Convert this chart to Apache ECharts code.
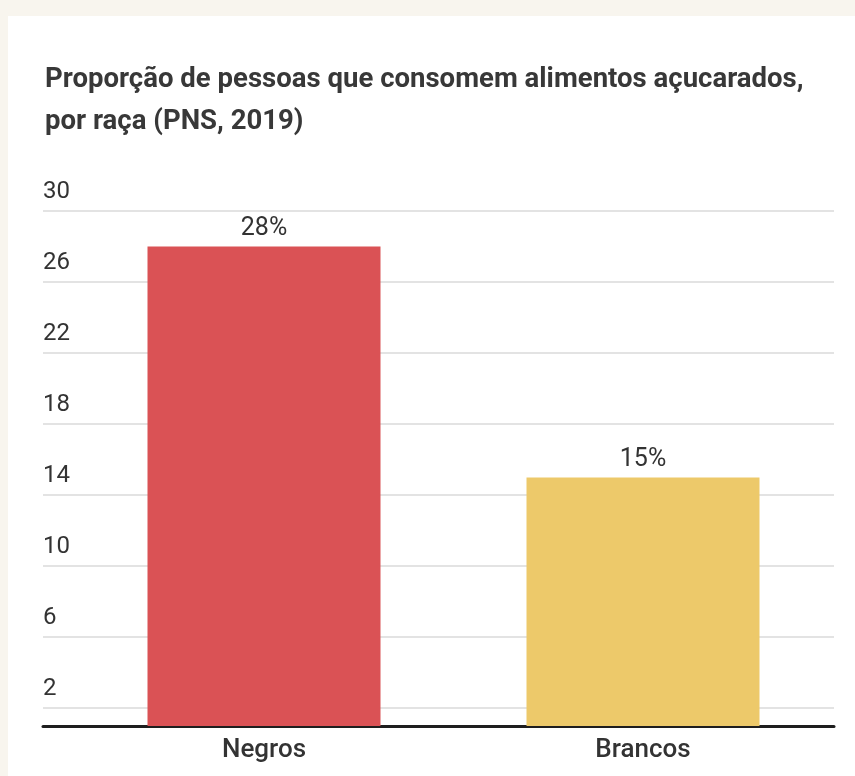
<!DOCTYPE html>
<html>
<head>
<meta charset="utf-8">
<script src="https://cdn.jsdelivr.net/npm/echarts@6/dist/echarts.min.js"></script>
<style>
  html, body { margin: 0; padding: 0; background: #f8f5ee; width: 855px; height: 776px; overflow: hidden; }
  #chart { position: absolute; left: 8px; top: 16px; width: 847px; height: 760px; background: #ffffff; }
</style>
</head>
<body>
<div id="chart"></div>
<script>
// Share of people who consume sugary foods, by race (PNS, 2019)
const titleLines = ['Proporção de pessoas que consomem alimentos açucarados,', 'por raça (PNS, 2019)'];
const categories = ['Negros', 'Brancos'];
const values = [28, 15];
const barColors = ['#da5255', '#edc96a'];
const yMin = 1;
const yMax = 30;
const tickStart = 2;
const tickStep = 4;

const textColor = '#333333';
const font = 'Roboto, "Noto Sans", sans-serif';

const chart = echarts.init(document.getElementById('chart'), null, { renderer: 'canvas' });

// Gridlines only every fourth unit starting at 2: colour the split lines cyclically.
const splitColors = [];
for (let i = 0; i < tickStep; i++) {
  splitColors.push(((yMin + i) - tickStart) % tickStep === 0 ? '#e3e3e3' : 'rgba(0,0,0,0)');
}

chart.setOption({
  animation: false,
  // Two-line heading
  graphic: [
    {
      type: 'text',
      x: 37,
      y: 43,
      scaleX: 1.02,
      scaleY: 1,
      style: {
        text: titleLines.join('\n'),
        align: 'left',
        verticalAlign: 'top',
        fontFamily: font,
        fontSize: 27,
        fontWeight: 'bold',
        lineHeight: 42,
        fill: '#383838'
      }
    }
  ],
  grid: [
    { left: 35, right: 21, top: 195, bottom: 50, containLabel: false },
    { left: 66.5, right: 22.5, top: 195, bottom: 50, containLabel: false }
  ],
  xAxis: [
    {
      type: 'value',
      gridIndex: 0,
      min: 0, max: 1,
      axisLine: { show: true, onZero: false, lineStyle: { color: '#1e1e1e', width: 3 } },
      axisTick: { show: false },
      axisLabel: { show: false },
      splitLine: { show: false }
    },
    {
      type: 'category',
      gridIndex: 1,
      data: categories,
      axisLine: { show: false },
      axisTick: { show: false },
      axisLabel: {
        margin: 11,
        fontFamily: font,
        fontSize: 26,
        fontWeight: 500,
        color: textColor
      }
    }
  ],
  yAxis: [
    {
      type: 'value',
      gridIndex: 0,
      min: yMin,
      max: yMax,
      interval: 1,
      axisLine: { show: false },
      axisTick: { show: false },
      axisLabel: {
        inside: true,
        margin: 0,
        align: 'left',
        verticalAlign: 'bottom',
        padding: [0, 0, 7, 0],
        fontFamily: font,
        fontSize: 24,
        color: textColor,
        formatter: function (v) {
          return (v - tickStart) % tickStep === 0 ? String(v) : '';
        }
      },
      splitLine: { show: true, lineStyle: { color: splitColors, width: 2 } }
    },
    {
      type: 'value',
      gridIndex: 1,
      min: yMin,
      max: yMax,
      show: false
    }
  ],
  series: [
    {
      type: 'bar',
      xAxisIndex: 1,
      yAxisIndex: 1,
      barWidth: 233,
      clip: true,
      data: values.map((v, i) => ({ value: v, itemStyle: { color: barColors[i] } })),
      label: {
        show: true,
        position: 'top',
        distance: 5,
        fontFamily: font,
        fontSize: 25,
        color: textColor,
        formatter: '{c}%'
      }
    }
  ]
});
</script>
</body>
</html>
